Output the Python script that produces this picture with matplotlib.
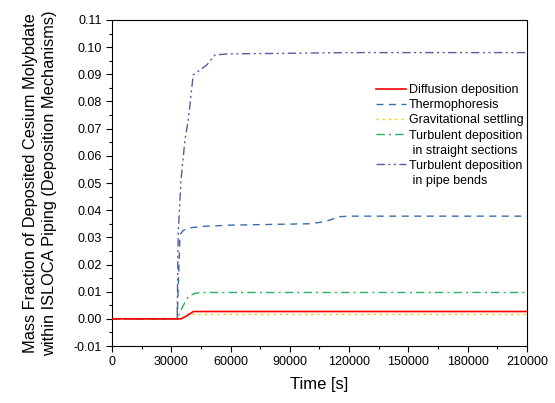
import matplotlib.pyplot as plt
from matplotlib.lines import Line2D
import numpy as np

plt.rcParams['font.family'] = ['Liberation Sans', 'DejaVu Sans']

# time points [s] and deposited mass fractions per mechanism
t_diff = [0, 35000, 38000, 41200, 60000, 120000, 210000]
diffusion = [0.0, 0.0, 0.0012, 0.0027, 0.0027, 0.0027, 0.0027]

t_thermo = [0, 33000, 34400, 36000, 38500, 45000, 60000, 100000, 108000, 115000, 120000, 210000]
thermo = [0.0, 0.0, 0.031, 0.0325, 0.0334, 0.034, 0.0345, 0.035, 0.0358, 0.0376, 0.0378, 0.0378]

t_grav = [0, 34500, 38000, 40000, 60000, 210000]
gravity = [0.0, 0.0, 0.0012, 0.0016, 0.0016, 0.0016]

t_straight = [0, 33000, 35000, 37200, 38600, 42000, 45000, 210000]
straight = [0.0, 0.0, 0.0035, 0.0064, 0.0082, 0.0094, 0.0097, 0.0097]

t_bends = [0, 33000, 33300, 33500, 34900, 36900, 38600, 41100, 47900, 52100, 58000, 120000, 210000]
bends = [0.0, 0.0, 0.0205, 0.0316, 0.051, 0.0658, 0.0732, 0.0898, 0.0934, 0.0971, 0.0975, 0.098, 0.098]

fig = plt.figure(figsize=(5.55, 4.03), dpi=100)
ax = fig.add_axes([0.2018, 0.1414, 0.7477, 0.809])

l1, = ax.plot(t_diff, diffusion, color='#ff0000', lw=1.2, ls='-', zorder=5)
l2, = ax.plot(t_thermo, thermo, color='#3a6bb0', lw=1.0, ls=(0, (5, 4)))
l3, = ax.plot(t_grav, gravity, color='#ffc000', lw=1.0, ls=(0, (1.5, 3)))
l4, = ax.plot(t_straight, straight, color='#2db060', lw=1.0, ls=(0, (6, 3, 1.5, 3)))
l5, = ax.plot(t_bends, bends, color='#5a5a9e', lw=1.0, ls=(0, (6, 2.5, 1.5, 2.5, 1.5, 2.5)))

ax.set_xlim(0, 210000)
ax.set_ylim(-0.01, 0.11)
ax.set_xticks(np.arange(0, 210001, 30000))
ax.set_xticks(np.arange(0, 210001, 15000), minor=True)
ax.set_yticks(np.arange(-0.01, 0.1101, 0.01))
ax.set_yticks(np.arange(-0.01, 0.1101, 0.005), minor=True)
ax.set_yticklabels([f'{v:.2f}' for v in np.arange(-0.01, 0.1101, 0.01)])
ax.tick_params(axis='both', which='major', direction='out', length=4, labelsize=9, width=0.8)
ax.tick_params(axis='both', which='minor', direction='out', length=2.5, width=0.8)

ax.set_xlabel('Time [s]', fontsize=12, labelpad=6)
ax.set_ylabel('Mass Fraction of Deposited Cesium Molybdate\nwithin ISLOCA Piping (Deposition Mechanisms)',
              fontsize=11.8, labelpad=12, linespacing=1.3)

# second text lines get an empty handle so the line sample sits next to the first line
blank = Line2D([], [], color='none')
handles = [l1, l2, l3, l4, blank, l5, blank]
labels = ['Diffusion deposition', 'Thermophoresis', 'Gravitational settling',
          'Turbulent deposition', ' in straight sections',
          'Turbulent deposition', ' in pipe bends']
leg = ax.legend(handles, labels, loc='upper right', bbox_to_anchor=(1.01, 0.826), frameon=False,
                fontsize=9, handlelength=2.4, handletextpad=0.2, labelspacing=0.25, borderaxespad=0.2)

fig.savefig('out.png', dpi=100)
